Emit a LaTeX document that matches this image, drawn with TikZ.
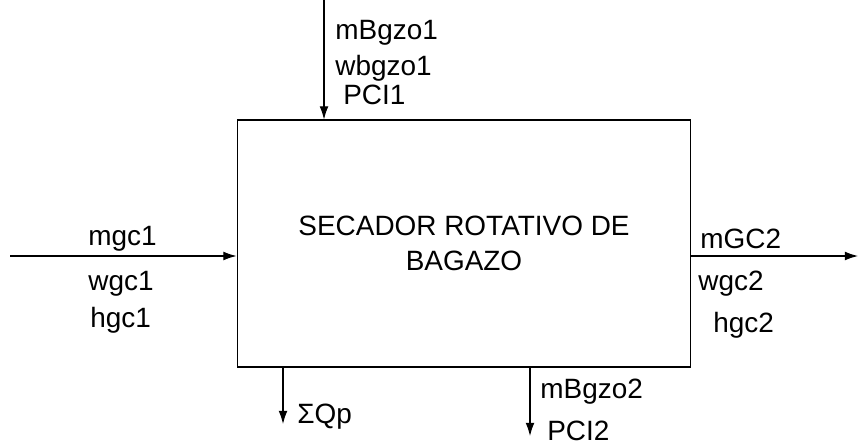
\documentclass[tikz,border=0pt]{standalone}
\usepackage{fontspec}
\setmainfont{Liberation Sans}
\usetikzlibrary{arrows.meta,calc}

\tikzset{
	flujo/.style={line width=0.6pt,-{Latex[length=7.5pt,width=5pt]}},
	etiqueta/.style={anchor=base west,inner sep=0pt,font=\fontsize{15.9}{19.8}\selectfont},
}

\begin{document}
\begin{tikzpicture}[x=0.02cm,y=-0.02cm]
	\useasboundingbox (0,0) rectangle (858,446);
	% secador
	\node (secador) at (464,243.5) [draw,line width=0.6pt,minimum width=9.08cm,minimum height=4.94cm,align=center,font=\fontsize{15.9}{19.8}\selectfont] {SECADOR ROTATIVO DE\\BAGAZO};
	% puntos libres de las corrientes
	\coordinate (bagazo1) at (324,0);
	\coordinate (gc1) at (10,256);
	\coordinate (gc2) at (858,256);
	\coordinate (perdidas) at (283,424);
	\coordinate (bagazo2) at (530,436);
	% corrientes
	\draw[flujo] (bagazo1) -- (bagazo1 |- secador.north);
	\draw[flujo] (gc1) -- (gc1 -| secador.west);
	\draw[flujo] (gc2 -| secador.east) -- (gc2);
	\draw[flujo] (perdidas |- secador.south) -- (perdidas);
	\draw[flujo] (bagazo2 |- secador.south) -- (bagazo2);
	% entrada de bagazo
	\node (mb1) at (335,40)[etiqueta] {mBgzo1};
	\node (wb1) at (335,75)[etiqueta] {wbgzo1};
	\node (pci1) at (343,105)[etiqueta] {PCI1};
	% entrada de gases
	\node (mg1) at (88,245)[etiqueta] {mgc1};
	\node (wg1) at (88,290)[etiqueta] {wgc1};
	\node (hg1) at (90,327)[etiqueta] {hgc1};
	% salida de gases
	\node (mg2) at (700,248)[etiqueta] {mGC2};
	\node (wg2) at (698,290)[etiqueta] {wgc2};
	\node (hg2) at (713,332)[etiqueta] {hgc2};
	% perdidas y salida de bagazo
	\node (qp) at (297,423)[etiqueta] {ΣQp};
	\node (mb2) at (540,398)[etiqueta] {mBgzo2};
	\node (pci2) at (547,440)[etiqueta] {PCI2};
\end{tikzpicture}
\end{document}
